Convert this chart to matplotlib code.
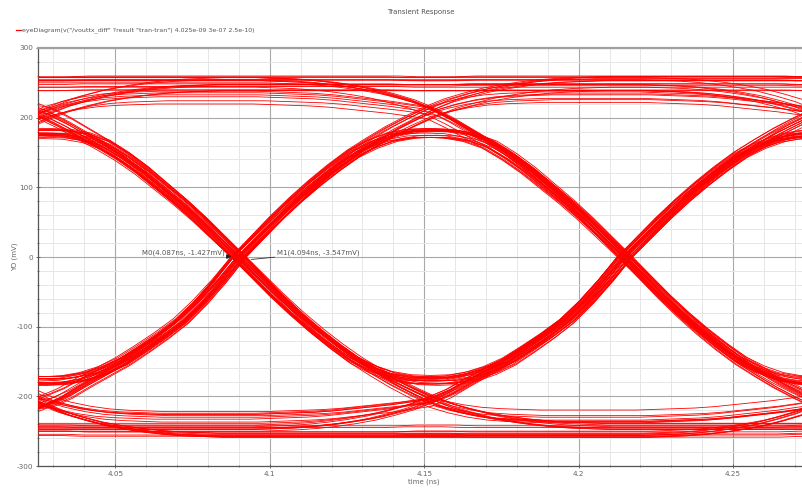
import numpy as np
import matplotlib
matplotlib.use('Agg')
import matplotlib.pyplot as plt
from matplotlib.lines import Line2D

plt.rcParams['font.family'] = 'DejaVu Sans'
plt.rcParams['axes.unicode_minus'] = False

# bit stream that is folded into the eye (2 UI window, 0.125 ns per bit)
bits = [0, 0, 0, 0, 0, 1, 0, 0, 0, 1, 1, 0, 0, 1, 0, 1,
        0, 0, 1, 1, 1, 0, 1, 0, 1, 1, 0, 1, 1, 1, 1, 1,
        1, 1, 0, 1, 0, 0, 1, 0, 1, 1, 1, 0, 0, 0, 1, 0,
        1, 0, 1, 1, 0, 0, 1, 1, 1, 0, 1, 0, 0, 0, 1, 0]
ui = 0.125
first_center = 3.9025      # bit centre one UI left of the window
step = 0.00625             # sample spacing of the shapes below (ns)

# half transitions (bit centre -> zero crossing, crossing -> bit centre), mV
fall_from = {208: [208, 194, 178, 162, 145, 125, 102, 79, 54, 27, 0],
             178: [178, 177, 172, 162, 145, 125, 102, 79, 54, 27, 0]}
fall_to = {-208: [0, -28, -56, -82, -106, -128, -148, -165, -181, -195, -208],
           -178: [0, -28, -56, -82, -106, -128, -148, -162, -172, -177, -178]}
rise_from = {-208: [-208, -196, -180, -165, -150, -132, -113, -92, -65, -34, 0],
             -178: [-178, -177, -172, -163, -150, -132, -113, -92, -65, -34, 0]}
rise_to = {208: [0, 28, 56, 82, 106, 128, 148, 165, 181, 195, 208],
           178: [0, 28, 56, 82, 106, 128, 148, 162, 172, 177, 178]}

# one full UI without a transition (start level, end level), mV
hold_hi = {
    (208, 250): [208, 219, 227, 234, 239, 243, 246, 248, 249, 250, 250, 250, 250, 250, 250, 250, 250, 250, 250, 250, 250],
    (250, 250): [250, 250, 251, 251, 251, 251, 251, 251, 251, 251, 251, 251, 251, 251, 251, 251, 251, 251, 251, 250, 250],
    (250, 208): [250, 250, 250, 250, 250, 250, 250, 250, 250, 250, 250, 250, 249, 248, 246, 243, 239, 234, 227, 219, 208],
    (208, 208): [208, 216, 222, 226, 228, 229, 230, 230, 230, 230, 230, 230, 229, 228, 227, 225, 222, 219, 216, 212, 208],
}
hold_lo = {
    (-208, -250): [-208, -219, -227, -234, -239, -243, -246, -248, -249, -250, -250, -250, -250, -250, -250, -250, -250, -250, -250, -250, -250],
    (-250, -250): [-250, -250, -251, -251, -251, -251, -251, -251, -251, -251, -251, -251, -251, -251, -251, -251, -251, -251, -251, -250, -250],
    (-250, -208): [-250, -250, -250, -250, -250, -250, -250, -250, -250, -250, -250, -250, -249, -248, -246, -243, -239, -234, -227, -219, -208],
    (-208, -208): [-208, -216, -222, -226, -228, -229, -230, -230, -230, -230, -230, -230, -229, -228, -227, -225, -222, -219, -216, -212, -208],
}

# spread of the bundles: timing jitter (ns) and amplitude gain
t_shift = [0.0, 0.0016, -0.0011, 0.0024, -0.0021, 0.0007, -0.0004, 0.0013, -0.0017, 0.002, -0.0007,
           0.0003, -0.0025]
gains = [1.0, 0.965, 1.025, 0.982, 1.035, 0.99, 1.012, 0.955, 1.03, 0.975, 1.018]

# markers
marker_names = ['M0', 'M1']
marker_t = [4.087, 4.094]
marker_v = [-1.427, -3.547]

x_ticks = [4.05, 4.1, 4.15, 4.2, 4.25]
x_labels = ['4.05', '4.1', '4.15', '4.2', '4.25']
y_ticks = [300, 200, 100, 0, -100, -200, -300]
y_labels = ['300', '200', '100', '0', '-100', '-200', '-300']

legend_text = 'eyeDiagram(v("/vouttx_diff" ?result "tran-tran") 4.025e-09 3e-07 2.5e-10)'


def segment(b0, b1, b2, b3):
    # shape of one UI from bit b1 to bit b2, b0 before and b3 after
    if b1 == 1 and b2 == 0:
        return fall_from[178 if b0 == 0 else 208] + fall_to[-178 if b3 == 1 else -208][1:]
    if b1 == 0 and b2 == 1:
        return rise_from[-178 if b0 == 1 else -208] + rise_to[178 if b3 == 0 else 208][1:]
    if b1 == 1:
        return hold_hi[(208 if b0 == 0 else 250, 208 if b3 == 0 else 250)]
    return hold_lo[(-208 if b0 == 1 else -250, -208 if b3 == 1 else -250)]


n = len(bits)
fig = plt.figure(figsize=(8.03, 4.94), dpi=100)
ax = fig.add_axes([38 / 803, 28 / 494, 772.4 / 803, 418 / 494])

# each window is drawn twice, with different jitter, like successive periods of the sim
for i in range(2 * n):
    k = i % n
    y = []
    for j in range(k - 1, k + 2):
        seg = segment(bits[(j - 1) % n], bits[j % n], bits[(j + 1) % n], bits[(j + 2) % n])
        y += seg if not y else seg[1:]
    y = np.array(y) * gains[i % len(gains)]
    t = first_center + np.arange(len(y)) * step + t_shift[i % len(t_shift)]
    ax.plot(t, y, color='#ff0000', lw=0.6, zorder=3)

ax.set_xlim(4.025, 4.275)
ax.set_ylim(-300, 300)
ax.set_xticks(x_ticks)
ax.set_xticklabels(x_labels)
ax.set_xticks(np.arange(4.03, 4.275, 0.01), minor=True)
ax.set_yticks(y_ticks)
ax.set_yticklabels(y_labels)
ax.set_yticks(np.arange(-280, 300, 20), minor=True)
ax.grid(which='major', color='#a8a8a8', lw=0.8, zorder=1)
ax.grid(which='minor', color='#e6e6e6', lw=0.7, zorder=0)
ax.tick_params(which='major', direction='inout', length=3, width=0.6, colors='#555555',
               labelsize=5.2, labelcolor='#666666', pad=2)
ax.tick_params(which='minor', direction='inout', length=1.5, width=0.5, colors='#555555')
for s in ['left', 'bottom']:
    ax.spines[s].set_color('#555555')
    ax.spines[s].set_linewidth(0.9)
ax.spines['top'].set_color('#a0a0a0')
ax.spines['top'].set_linewidth(1.6)
ax.spines['right'].set_visible(False)
ax.set_xlabel('time (ns)', fontsize=5, color='#666666', labelpad=1)

# markers on the crossing
ax.plot(marker_t[0] - 0.0005, marker_v[0] + 3, marker='>', ms=2.5, color='#222222', zorder=5)
ax.text(marker_t[0] - 0.0017, marker_v[0] + 7,
        '%s(%gns, %gmV)' % (marker_names[0], marker_t[0], marker_v[0]),
        fontsize=5, color='#555555', ha='right', va='center', zorder=5)
ax.annotate('%s(%gns, %gmV)' % (marker_names[1], marker_t[1], marker_v[1]),
            xy=(marker_t[1], marker_v[1]), xytext=(4.1025, 6),
            fontsize=5, color='#555555', ha='left', va='center', zorder=5,
            arrowprops=dict(arrowstyle='-', color='#333333', lw=0.6, shrinkA=0, shrinkB=0))

fig.text(15 / 803, 1 - 257 / 494, 'YO (mV)', rotation=90, fontsize=5, color='#666666',
         ha='center', va='center')
fig.text(421 / 803, 1 - 12 / 494, 'Transient Response', fontsize=5, color='#555555',
         ha='center', va='center')
fig.add_artist(Line2D([16 / 803, 21 / 803], [1 - 30.5 / 494, 1 - 30.5 / 494], color='#ff0000', lw=0.9))
fig.text(22 / 803, 1 - 30.5 / 494, legend_text, fontsize=4.5, color='#555555', ha='left', va='center')

fig.savefig('out.png', dpi=100)
